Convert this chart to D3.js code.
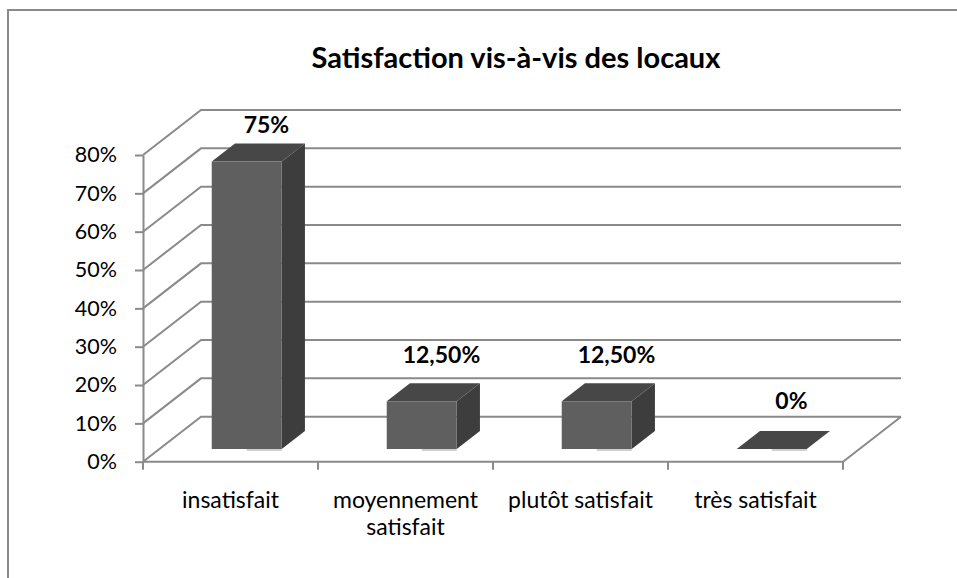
<!DOCTYPE html>
<html>
<head>
<meta charset="utf-8">
<script src="https://cdn.jsdelivr.net/npm/d3@7"></script>
<style>
  body { margin: 0; background: #fff; }
  text { font-family: Lato, "Open Sans", sans-serif; fill: #000; }
</style>
</head>
<body>
<div id="chart"></div>
<script>
// data
const categories = ["insatisfait", "moyennement satisfait", "plutôt satisfait", "très satisfait"];
const values = [0.75, 0.125, 0.125, 0];
const valueLabels = ["75%", "12,50%", "12,50%", "0%"];
const yTicks = [0, 0.1, 0.2, 0.3, 0.4, 0.5, 0.6, 0.7, 0.8];
const title = "Satisfaction vis-à-vis des locaux";

const WIDTH = 957;
const HEIGHT = 578;

// 3d depth of the plot (oblique projection)
const DX = 58;
const DY = -45;
// bar sits between these fractions of the depth
const D1 = 0.28;
const D2 = 0.68;

const GRID = "#8a8a8a";

const svg = d3
  .select("#chart")
  .append("svg")
  .attr("width", WIDTH)
  .attr("height", HEIGHT);

// chart border (right and bottom run off the picture)
svg
  .append("rect")
  .attr("x", 8)
  .attr("y", 10)
  .attr("width", 1017)
  .attr("height", 620)
  .attr("fill", "none")
  .attr("stroke", GRID)
  .attr("stroke-width", 2);

svg
  .append("text")
  .attr("x", 516)
  .attr("y", 68)
  .attr("text-anchor", "middle")
  .attr("font-size", "29px")
  .attr("font-weight", "bold")
  .text(title);

// scales
const x = d3.scaleBand().domain(categories).range([143, 843]).padding(0);
const y = d3.scaleLinear().domain([0, 0.8]).range([461.7, 155]);

const x0 = x.range()[0];
const x1 = x.range()[1];

// walls: side diagonals + back wall lines
const grid = svg.append("g").attr("stroke", GRID).attr("stroke-width", 2).attr("fill", "none");

grid
  .selectAll("path.wall")
  .data(yTicks)
  .enter()
  .append("path")
  .attr("class", "wall")
  .attr("d", (t) => `M${x0},${y(t)}L${x0 + DX},${y(t) + DY}L${x1 + DX},${y(t) + DY}`);

// floor front and right edges
grid
  .append("path")
  .attr("d", `M${x0},${y(0)}L${x1},${y(0)}L${x1 + DX},${y(0) + DY}`);

// category ticks at band boundaries
const bounds = categories.map((c) => x(c)).concat([x1]);
grid
  .selectAll("line.xtick")
  .data(bounds)
  .enter()
  .append("line")
  .attr("class", "xtick")
  .attr("x1", (d) => d)
  .attr("x2", (d) => d)
  .attr("y1", y(0))
  .attr("y2", y(0) + 8);

// y axis
const yAxis = svg
  .append("g")
  .attr("transform", `translate(${x0}, 0)`)
  .call(
    d3
      .axisLeft(y)
      .tickValues(yTicks)
      .tickFormat(d3.format(".0%"))
      .tickSize(8)
      .tickSizeOuter(0)
      .tickPadding(18)
  );
yAxis.selectAll("path, line").attr("stroke", GRID).attr("stroke-width", 2);
yAxis.selectAll("text").attr("font-size", "21.5px").attr("font-family", null).attr("fill", "#000");

// bars
const bw = x.bandwidth();
const bars = svg
  .selectAll("g.bar")
  .data(values)
  .enter()
  .append("g")
  .attr("class", "bar");

function pt(px, py, d) {
  return [px + d * DX, py + d * DY];
}

bars.each(function (v, i) {
  const g = d3.select(this);
  const c = categories[i];
  const bx0 = x(c) + bw * 0.3;
  const bx1 = x(c) + bw * 0.7;
  const yTop = y(v);
  const yBot = y(0);
  const line = d3.line();

  // right side
  g.append("path")
    .attr("d", line([pt(bx1, yTop, D1), pt(bx1, yTop, D2), pt(bx1, yBot, D2), pt(bx1, yBot, D1)]) + "Z")
    .attr("fill", "#3d3d3d");
  // top
  g.append("path")
    .attr("d", line([pt(bx0, yTop, D1), pt(bx1, yTop, D1), pt(bx1, yTop, D2), pt(bx0, yTop, D2)]) + "Z")
    .attr("fill", "#474747");
  // front
  g.append("path")
    .attr("d", line([pt(bx0, yTop, D1), pt(bx1, yTop, D1), pt(bx1, yBot, D1), pt(bx0, yBot, D1)]) + "Z")
    .attr("fill", "#5f5f5f");
  // light edge at the bottom of the front face
  const [lx, ly] = pt((bx0 + bx1) / 2, yBot, D1);
  const [rx] = pt(bx1, yBot, D1);
  g.append("line")
    .attr("x1", lx)
    .attr("x2", rx)
    .attr("y1", ly + 1)
    .attr("y2", ly + 1)
    .attr("stroke", "#cfcfcf")
    .attr("stroke-width", 2);
});

// value labels
svg
  .selectAll("text.value")
  .data(values)
  .enter()
  .append("text")
  .attr("class", "value")
  .attr("x", (v, i) => x(categories[i]) + bw / 2 + 0.62 * DX)
  .attr("y", (v) => y(v) + 0.62 * DY - 20 + (v - 0.3) * 16)
  .attr("text-anchor", "middle")
  .attr("font-size", "23px")
  .attr("font-weight", "bold")
  .text((v, i) => valueLabels[i]);

// category labels, wrapped to the band width
const catText = svg
  .selectAll("text.cat")
  .data(categories)
  .enter()
  .append("text")
  .attr("class", "cat")
  .attr("x", (c) => x(c) + bw / 2)
  .attr("y", 508)
  .attr("text-anchor", "middle")
  .attr("font-size", "23px")
  .text((c) => c);

catText.each(function (c) {
  const t = d3.select(this);
  const words = c.split(" ");
  let lineWords = [];
  t.text(null);
  let tspan = t.append("tspan").attr("x", t.attr("x")).attr("dy", 0);
  words.forEach((w) => {
    lineWords.push(w);
    tspan.text(lineWords.join(" "));
    if (tspan.node().getComputedTextLength() > bw - 4 && lineWords.length > 1) {
      lineWords.pop();
      tspan.text(lineWords.join(" "));
      lineWords = [w];
      tspan = t.append("tspan").attr("x", t.attr("x")).attr("dy", 27).text(w);
    }
  });
});
</script>
</body>
</html>
